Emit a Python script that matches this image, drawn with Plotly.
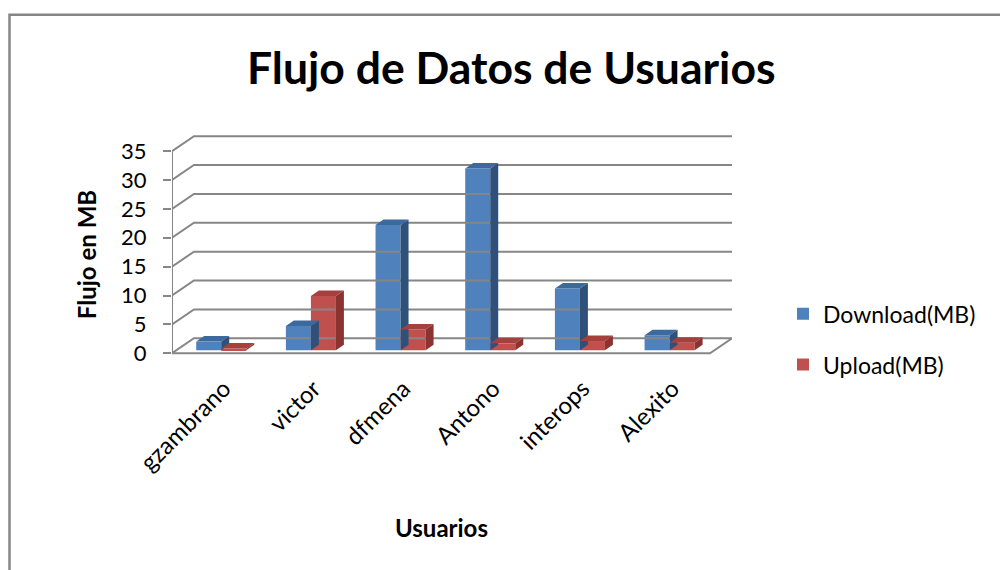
import plotly.graph_objects as go

# ---- data -------------------------------------------------------------
users = ["gzambrano", "victor", "dfmena", "Antono", "interops", "Alexito"]
download_mb = [1.5, 4.2, 21.7, 31.5, 10.7, 2.6]
upload_mb = [0.3, 9.4, 3.6, 1.2, 1.6, 1.3]
y_ticks = [0, 5, 10, 15, 20, 25, 30, 35]

# ---- pseudo-3D geometry (axis units) ----------------------------------
WALL_DX, WALL_DY = 0.245, 2.6      # depth of floor / side wall
BAR_X0, BAR_Y0 = 0.049, 0.52       # where the bar row sits inside the depth
BAR_W = 0.279                      # width of one column
BAR_DX, BAR_DY = 0.089, 0.95       # depth of each column
LABEL_SHIFT = 0.08                 # category labels sit under the column pair

GRID = "#868686"
FONT = "Lato"
BLUE = ("#4F81BD", "#3C6A9F", "#2E5079")   # front, top, side
RED = ("#C0504D", "#A5403D", "#8A3331")

X_MIN, X_MAX = -0.5, len(users) - 0.5
Y_RANGE = [-0.3, 37.8]

fig = go.Figure()

# side wall + back wall grid lines
gx, gy = [], []
for v in y_ticks:
    gx += [X_MIN, X_MIN + WALL_DX, X_MAX + WALL_DX, None]
    gy += [v, v + WALL_DY, v + WALL_DY, None]
# floor front and right edges, front vertical axis
gx += [X_MIN, X_MAX, X_MAX + WALL_DX, None, X_MIN, X_MIN]
gy += [0, 0, WALL_DY, None, 0, max(y_ticks)]
fig.add_trace(go.Scatter(x=gx, y=gy, mode="lines",
                         line=dict(color=GRID, width=2),
                         hoverinfo="skip", showlegend=False))


def add_series(name, values, offset, colors):
    idx = list(range(len(values)))
    fig.add_trace(go.Bar(
        x=idx, y=values, base=BAR_Y0, width=BAR_W, offset=offset,
        name=name, legendgroup=name,
        marker=dict(color=colors[0], line=dict(width=0)),
    ))
    sx, sy, tx, ty = [], [], [], []
    for i, v in zip(idx, values):
        left = i + offset
        right = left + BAR_W
        top = BAR_Y0 + v
        # right-hand side face
        sx += [right, right + BAR_DX, right + BAR_DX, right, right, None]
        sy += [BAR_Y0, BAR_Y0 + BAR_DY, top + BAR_DY, top, BAR_Y0, None]
        # top face
        tx += [left, left + BAR_DX, right + BAR_DX, right, left, None]
        ty += [top, top + BAR_DY, top + BAR_DY, top, top, None]
    fig.add_trace(go.Scatter(x=sx, y=sy, mode="lines", fill="toself",
                             fillcolor=colors[2], line=dict(width=0),
                             hoverinfo="skip", showlegend=False))
    fig.add_trace(go.Scatter(x=tx, y=ty, mode="lines", fill="toself",
                             fillcolor=colors[1], line=dict(width=0),
                             hoverinfo="skip", showlegend=False))


add_series("Download(MB)", download_mb, BAR_X0 - BAR_W, BLUE)
add_series("Upload(MB)", upload_mb, BAR_X0, RED)

# ---- layout -----------------------------------------------------------
L, R, T, B = 172, 268, 135, 215.3
W_PLOT = 1000 - L - R
H_PLOT = 570 - T - B


def px_x(p):
    return (p - L) / W_PLOT


def px_y(p):
    return (570 - B - p) / H_PLOT


fig.update_layout(
    width=1000, height=570,
    margin=dict(l=L, r=R, t=T, b=B, autoexpand=False),
    paper_bgcolor="white", plot_bgcolor="white",
    barmode="overlay",
    font=dict(family=FONT, size=22, color="black"),
    showlegend=True,
    legend=dict(x=px_x(783), y=px_y(292), xanchor="left", yanchor="top",
                font=dict(size=23), tracegroupgap=18,
                bgcolor="rgba(0,0,0,0)"),
    xaxis=dict(range=[X_MIN, X_MAX + WALL_DX], tickmode="array",
               tickvals=[i + LABEL_SHIFT for i in range(len(users))],
               ticktext=users,
               tickangle=-45, showgrid=False, zeroline=False,
               showline=False, ticks="", tickfont=dict(size=24),
               ticklabelstandoff=14),
    yaxis=dict(range=Y_RANGE, tickmode="array", tickvals=y_ticks,
               showgrid=False, zeroline=False, showline=False,
               ticks="outside", ticklen=8, tickwidth=2, tickcolor=GRID,
               tickfont=dict(size=22), ticklabelstandoff=12),
    shapes=[dict(type="path", xref="paper", yref="paper",
                 path=f"M {px_x(9.5)} {px_y(580)} L {px_x(9.5)} {px_y(15)} "
                      f"L {px_x(1010)} {px_y(15)}",
                 line=dict(color=GRID, width=2.5))],
    annotations=[
        dict(text="<b>Flujo de Datos de Usuarios</b>", xref="paper",
             yref="paper", x=px_x(511), y=px_y(67), showarrow=False,
             font=dict(size=44.5), xanchor="center", yanchor="middle"),
        dict(text="<b>Flujo en MB</b>", xref="paper", yref="paper",
             x=px_x(86), y=px_y(255), showarrow=False, textangle=-90,
             font=dict(size=24), xanchor="center", yanchor="middle"),
        dict(text="<b>Usuarios</b>", xref="paper", yref="paper",
             x=px_x(441), y=px_y(527), showarrow=False,
             font=dict(size=24), xanchor="center", yanchor="middle"),
    ],
)

fig.write_html("out.html")
